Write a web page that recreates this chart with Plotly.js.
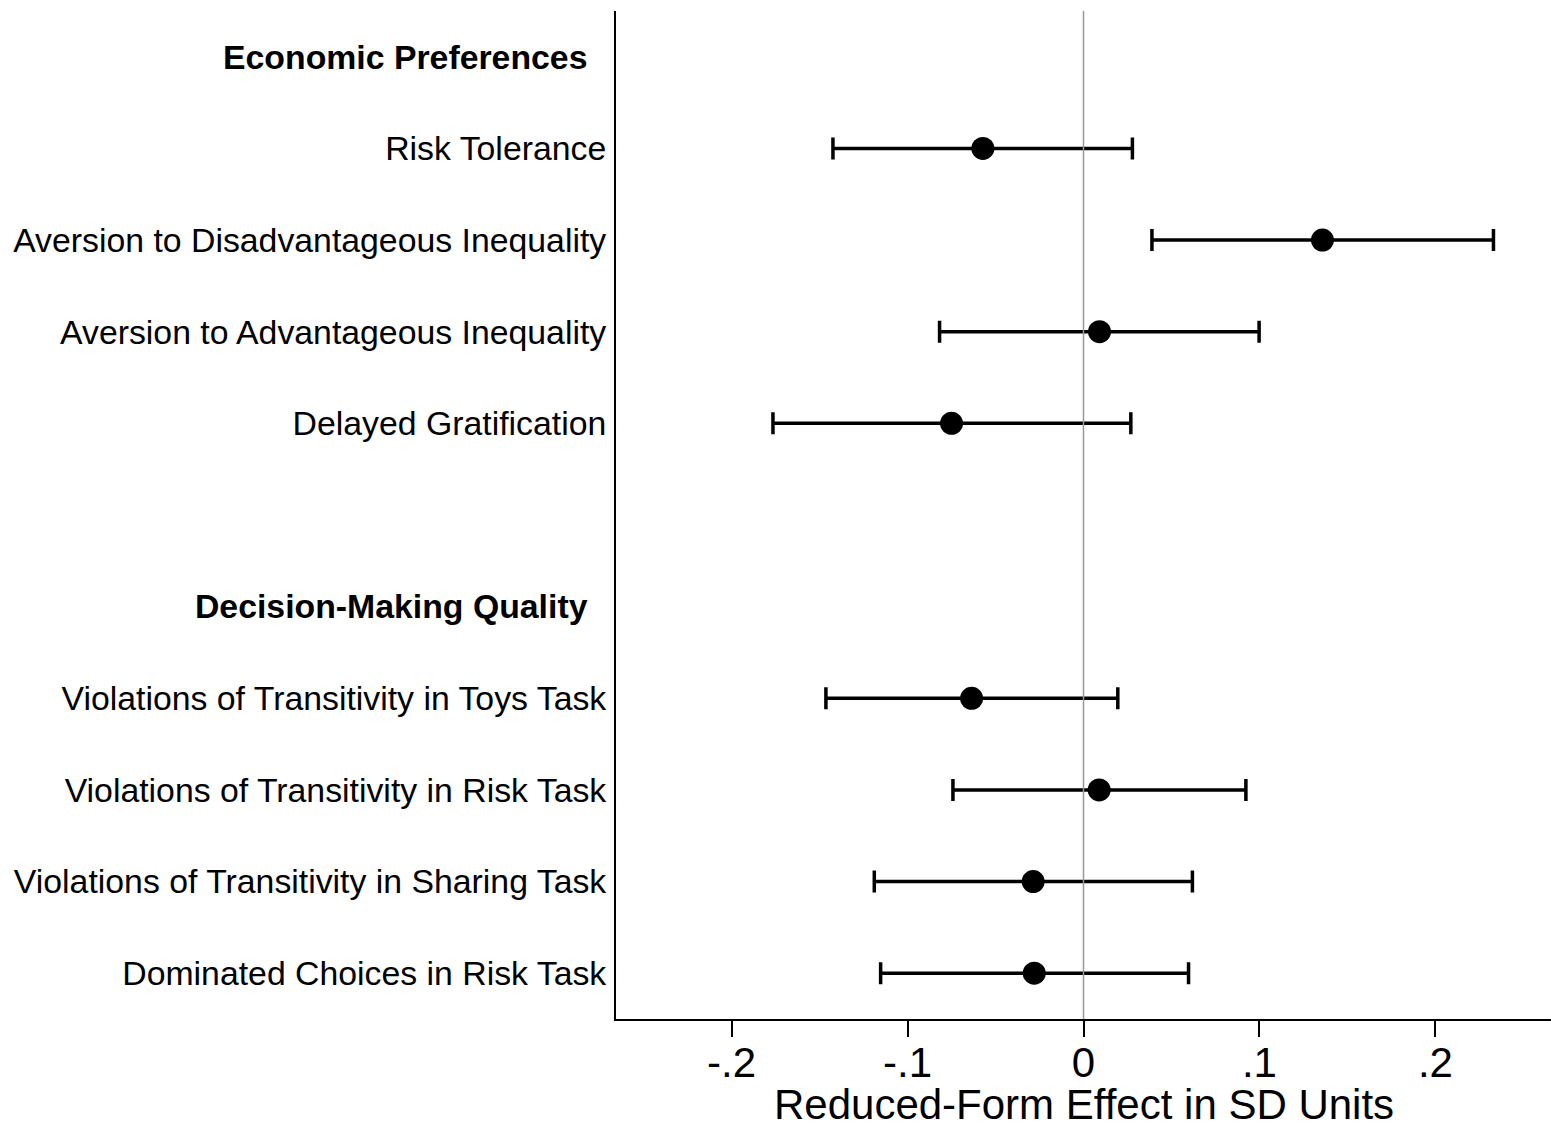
<!DOCTYPE html>
<html>
<head>
<meta charset="utf-8">
<script src="https://cdn.plot.ly/plotly-3.0.1.min.js"></script>
<style>
  html, body { margin: 0; padding: 0; background: #fff; }
  #chart { width: 1551px; height: 1129px; }
</style>
</head>
<body>
<div id="chart"></div>
<script>
// Row labels from top to bottom; section headers carry no estimate.
const rowLabels = [
  "Economic Preferences",
  "Risk Tolerance",
  "Aversion to Disadvantageous Inequality",
  "Aversion to Advantageous Inequality",
  "Delayed Gratification",
  "",
  "Decision-Making Quality",
  "Violations of Transitivity in Toys Task",
  "Violations of Transitivity in Risk Task",
  "Violations of Transitivity in Sharing Task",
  "Dominated Choices in Risk Task"
];
const headerRows = ["Economic Preferences", "Decision-Making Quality"];

// Outcomes with point estimates and 95% confidence bounds (SD units).
const outcomes = [
  "Risk Tolerance",
  "Aversion to Disadvantageous Inequality",
  "Aversion to Advantageous Inequality",
  "Delayed Gratification",
  "Violations of Transitivity in Toys Task",
  "Violations of Transitivity in Risk Task",
  "Violations of Transitivity in Sharing Task",
  "Dominated Choices in Risk Task"
];
const estimates = [-0.0572, 0.1358, 0.0091, -0.0750, -0.0636, 0.0089, -0.0286, -0.0280];
const lowerCI   = [-0.1424, 0.0389, -0.0818, -0.1765, -0.1464, -0.0742, -0.1189, -0.1153];
const upperCI   = [0.0278, 0.2330, 0.0998, 0.0269, 0.0195, 0.0923, 0.0619, 0.0597];

const xTickVals = [-0.2, -0.1, 0, 0.1, 0.2];
const xTickText = ["-.2", "-.1", "0", ".1", ".2"];
const xTitle = "Reduced-Form Effect in SD Units";

const rowIndex = rowLabels.map((_, i) => i);
const yPos = outcomes.map(o => rowLabels.indexOf(o));
const yTickText = rowLabels.map(l =>
  headerRows.includes(l) ? "<b>" + l + "</b>\u00a0\u00a0" : l
);

const trace = {
  type: "scatter",
  mode: "markers",
  x: estimates,
  y: yPos,
  marker: { color: "#000", size: 23 },
  error_x: {
    type: "data",
    symmetric: false,
    array: upperCI.map((u, i) => u - estimates[i]),
    arrayminus: estimates.map((e, i) => e - lowerCI[i]),
    color: "#000",
    thickness: 3.5,
    width: 11
  },
  hoverinfo: "x+y",
  showlegend: false
};

const layout = {
  width: 1551,
  height: 1129,
  paper_bgcolor: "#fff",
  plot_bgcolor: "#fff",
  margin: { l: 616, r: 0, t: 11, b: 110 },
  font: { family: "Liberation Sans, Arial, Helvetica, sans-serif", color: "#000" },
  showlegend: false,
  xaxis: {
    range: [-0.2657, 0.2657],
    tickvals: xTickVals,
    ticktext: xTickText,
    ticks: "outside",
    ticklen: 16,
    tickwidth: 2,
    tickcolor: "#000",
    ticklabelstandoff: -10,
    tickfont: { size: 42, color: "#000" },
    showline: true,
    linecolor: "#000",
    linewidth: 2,
    showgrid: false,
    zeroline: false
  },
  yaxis: {
    range: [10.5, -0.5],
    tickvals: rowIndex,
    ticktext: yTickText,
    ticks: "",
    ticklabelstandoff: 1,
    tickfont: { size: 33.8, color: "#000" },
    showline: true,
    linecolor: "#000",
    linewidth: 2,
    showgrid: false,
    zeroline: false
  },
  // x-axis title, sitting on the bottom edge under the tick labels
  annotations: [{
    text: xTitle,
    xref: "x domain", yref: "paper",
    x: 0.5, y: -0.1091,
    xanchor: "center", yanchor: "bottom",
    borderpad: 0,
    showarrow: false,
    font: { size: 42, color: "#000" }
  }],
  shapes: [{
    type: "line",
    xref: "x", yref: "paper",
    x0: 0, x1: 0, y0: 0, y1: 1,
    line: { color: "#999", width: 1.5 },
    layer: "above"
  }]
};

Plotly.newPlot("chart", [trace], layout, { displayModeBar: false, staticPlot: true });
</script>
</body>
</html>
